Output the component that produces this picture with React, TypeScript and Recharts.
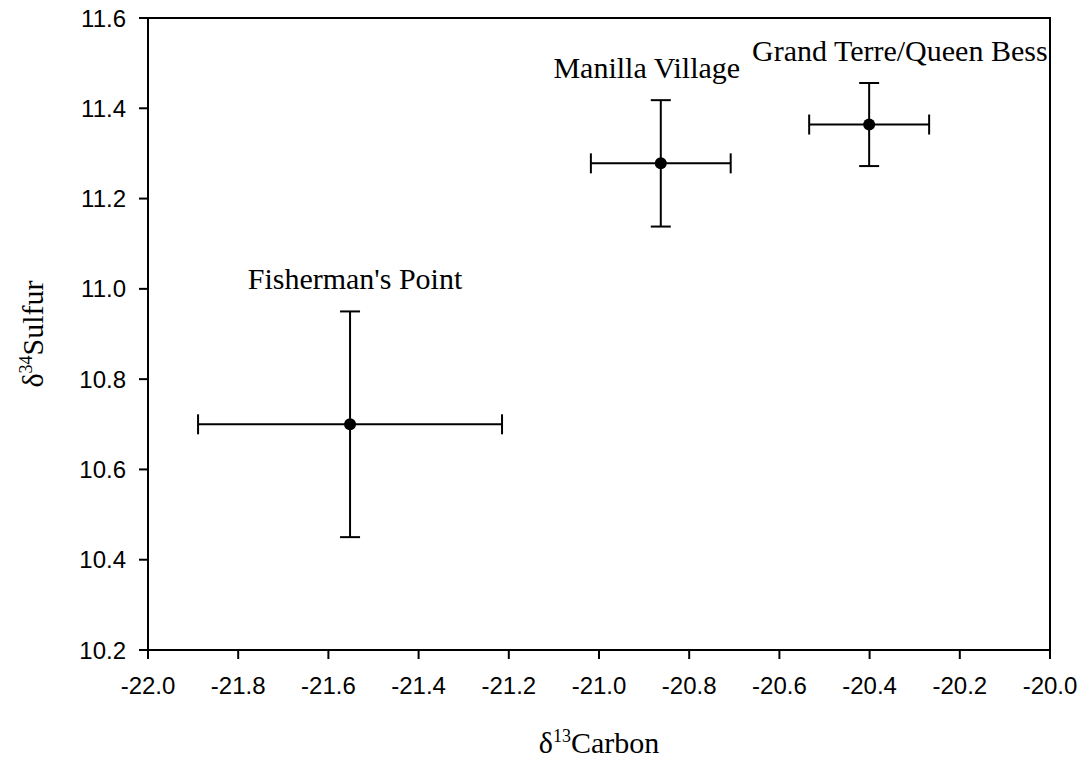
import React from 'react';
import { ScatterChart, Scatter, XAxis, YAxis, ErrorBar, ReferenceArea } from 'recharts';

// site means with 1 SD error bars
const sites = ["Fisherman's Point", 'Manilla Village', 'Grand Terre/Queen Bess'];
const carbon = [-21.552, -20.863, -20.401];
const sulfur = [10.7, 11.278, 11.364];
const carbonErr = [0.337, 0.155, 0.133];
const sulfurErr = [0.25, 0.14, 0.092];

// where each site name sits (data coords, text baseline centre)
const labelCarbon = [-21.541, -20.894, -20.333];
const labelSulfur = [11.0, 11.467, 11.505];

const xTicks = [-22, -21.8, -21.6, -21.4, -21.2, -21, -20.8, -20.6, -20.4, -20.2, -20];
const yTicks = [10.2, 10.4, 10.6, 10.8, 11, 11.2, 11.4, 11.6];

const points = sites.map((s, i) => ({
  site: s,
  carbon: carbon[i],
  sulfur: sulfur[i],
  xErr: carbonErr[i],
  yErr: sulfurErr[i],
}));

const labels = sites.map((s, i) => ({ site: s, carbon: labelCarbon[i], sulfur: labelSulfur[i] }));

const serif = '"Liberation Serif", "Times New Roman", serif';
const sans = '"Liberation Sans", Arial, sans-serif';
const tickStyle = { fill: '#000', fontSize: 24, fontFamily: sans };
const lineStyle = { stroke: '#000', strokeWidth: 2 };

const XLabel = (props: any) => {
  const vb = props.viewBox;
  return (
    <text x={vb.x + vb.width / 2} y={vb.y + 103} textAnchor="middle" fontFamily={serif} fontSize={30} fill="#000">
      <tspan>δ</tspan>
      <tspan fontSize={18} dy={-11}>13</tspan>
      <tspan dy={11}>Carbon</tspan>
    </text>
  );
};

const YLabel = (props: any) => {
  const vb = props.viewBox;
  const x = vb.x - 5;
  const y = vb.y + vb.height / 2;
  return (
    <text x={x} y={y} transform={`rotate(-90, ${x}, ${y})`} textAnchor="middle" fontFamily={serif} fontSize={30} fill="#000">
      <tspan>δ</tspan>
      <tspan fontSize={18} dy={-11}>34</tspan>
      <tspan dy={11}>Sulfur</tspan>
    </text>
  );
};

export default function App() {
  return (
    <div style={{ position: 'absolute', left: 0, top: 0, background: '#fff' }}>
      <ScatterChart width={1084} height={763} margin={{ top: 18, right: 34, bottom: 53, left: 48 }}>
        <ReferenceArea x1={-22} x2={-20} y1={10.2} y2={11.6} fill="none" stroke="#000" strokeWidth={2} ifOverflow="visible" />
        <XAxis
          type="number"
          dataKey="carbon"
          domain={[-22, -20]}
          ticks={xTicks}
          tickFormatter={(v: number) => v.toFixed(1)}
          height={60}
          tickSize={9}
          tickMargin={18}
          tick={tickStyle}
          axisLine={lineStyle}
          tickLine={lineStyle}
          label={<XLabel />}
        />
        <YAxis
          type="number"
          dataKey="sulfur"
          domain={[10.2, 11.6]}
          ticks={yTicks}
          tickFormatter={(v: number) => v.toFixed(1)}
          width={100}
          tickSize={9}
          tickMargin={13}
          tick={tickStyle}
          axisLine={lineStyle}
          tickLine={lineStyle}
          label={<YLabel />}
        />
        <Scatter
          data={points}
          fill="#000"
          isAnimationActive={false}
          shape={(p: any) => <circle cx={p.cx} cy={p.cy} r={6} fill="#000" />}
        >
          <ErrorBar dataKey="xErr" direction="x" width={10} stroke="#000" strokeWidth={2} isAnimationActive={false} />
          <ErrorBar dataKey="yErr" direction="y" width={10} stroke="#000" strokeWidth={2} isAnimationActive={false} />
        </Scatter>
        <Scatter
          data={labels}
          isAnimationActive={false}
          shape={(p: any) => (
            <text x={p.cx} y={p.cy} textAnchor="middle" fontFamily={serif} fontSize={30} fill="#000">
              {p.payload.site}
            </text>
          )}
        />
      </ScatterChart>
    </div>
  );
}
